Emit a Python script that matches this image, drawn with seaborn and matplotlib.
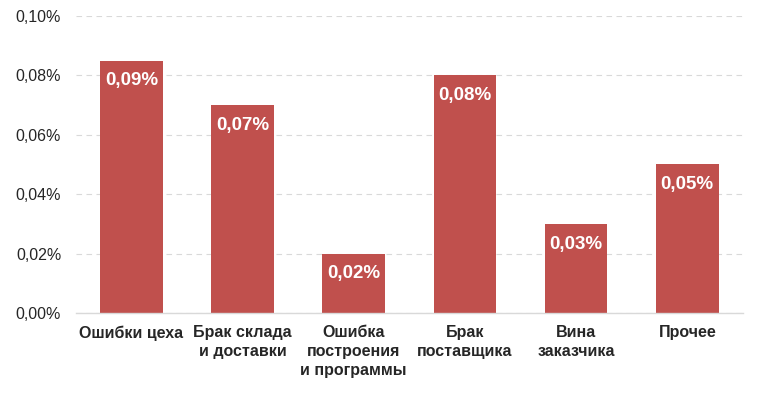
import pandas as pd
import matplotlib
matplotlib.use('Agg')
import matplotlib.pyplot as plt
from matplotlib.ticker import FuncFormatter
import seaborn as sns

categories = ['Ошибки цеха', 'Брак склада\nи доставки', 'Ошибка\nпостроения\nи программы',
              'Брак\nпоставщика', 'Вина\nзаказчика', 'Прочее']
values = [0.085, 0.070, 0.020, 0.080, 0.030, 0.050]
value_labels = ['0,09%', '0,07%', '0,02%', '0,08%', '0,03%', '0,05%']
y_ticks = [0.00, 0.02, 0.04, 0.06, 0.08, 0.10]

df = pd.DataFrame({'cat': categories, 'val': values})

sns.set_style('white')
plt.rcParams['font.family'] = ['Liberation Sans', 'DejaVu Sans']

fig = plt.figure(figsize=(7.58, 3.98), dpi=100)
ax = fig.add_axes([0.1, 0.2136, 0.88, 0.7462])

sns.barplot(data=df, x='cat', y='val', color='#C0504D', saturation=1, width=0.565,
            linewidth=0, ax=ax)

# Bar value labels inside near the top
for i, (v, lab) in enumerate(zip(values, value_labels)):
    ax.annotate(lab, (i, v), xytext=(0, -14.5), textcoords='offset points',
                ha='center', va='center', color='white', fontsize=13.5, fontweight='bold')

ax.set_ylim(0, 0.1)
ax.set_yticks(y_ticks)
ax.yaxis.set_major_formatter(FuncFormatter(lambda y, p: f'{y:.2f}%'.replace('.', ',')))
ax.set_xlabel('')
ax.set_ylabel('')

# grid and spines
ax.grid(axis='y', linestyle=(0, (5, 4)), color='#d9d9d9', linewidth=0.8)
ax.set_axisbelow(True)
for s in ['top', 'right', 'left']:
    ax.spines[s].set_visible(False)
ax.spines['bottom'].set_color('#d9d9d9')
ax.spines['bottom'].set_linewidth(1)

ax.tick_params(axis='y', length=0, labelsize=11.5, pad=10.5)
ax.tick_params(axis='x', length=0, pad=9)
for label in ax.get_xticklabels():
    label.set_fontsize(11.5)
    label.set_fontweight('bold')
    label.set_va('top')
    label.set_linespacing(1.3)

fig.savefig('out.png', dpi=100)
